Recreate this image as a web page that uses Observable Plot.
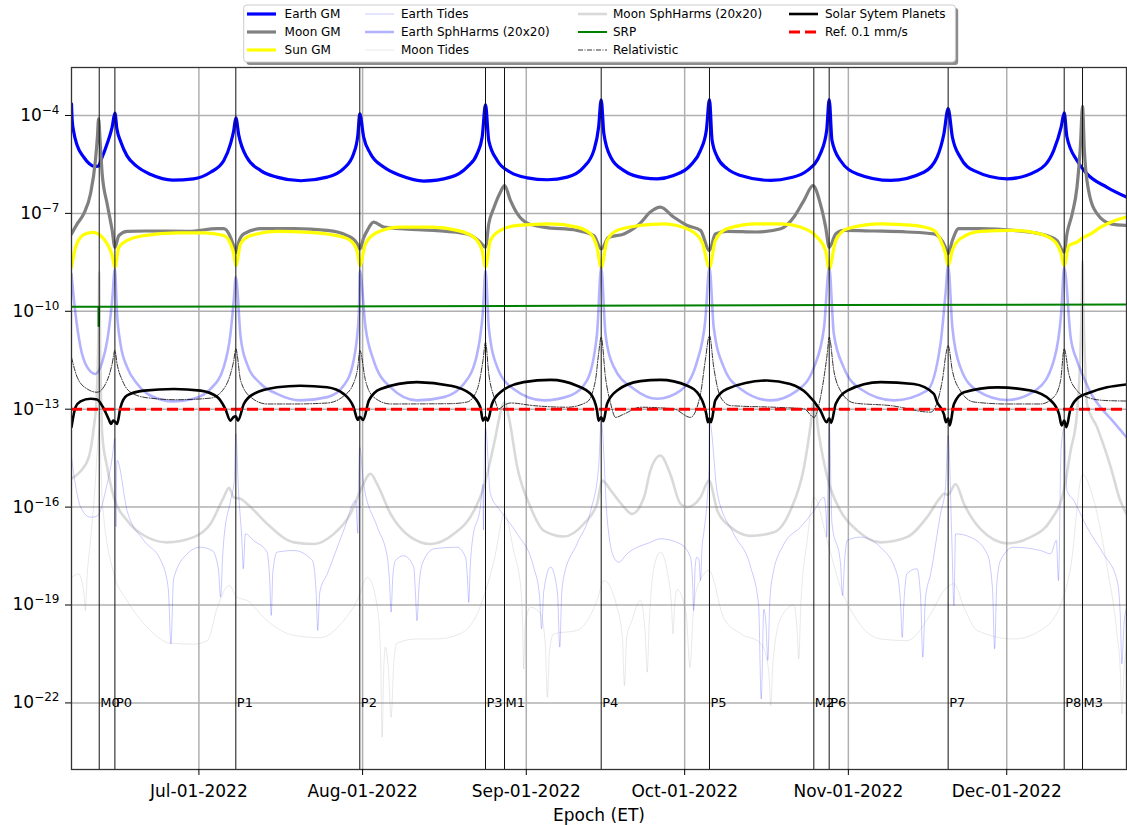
<!DOCTYPE html>
<html><head><meta charset="utf-8">
<script src="https://cdn.jsdelivr.net/npm/d3@7"></script>
<script src="https://cdn.jsdelivr.net/npm/@observablehq/plot@0.6"></script>
<style>
body{margin:0;background:#fff;font-family:"DejaVu Sans",sans-serif;}
#wrap{position:relative;width:1127px;height:825px;}
</style></head><body><div id="wrap"></div>
<script>
// ---------- DATA (x: days since 2022-06-01 UTC, value: log10 of acceleration) ----------
const yTicks = [1e-4, 1e-7, 1e-10, 1e-13, 1e-16, 1e-19, 1e-22];
const monthTicks = ["2022-07-01","2022-08-01","2022-09-01","2022-10-01","2022-11-01","2022-12-01"];
const xDomainDays = [5.87, 205.68];
const yDomainExp = [-24.04, -2.53];
const eventLabels = ["M0","P0","P1","P2","P3","M1","P4","P5","M2","P6","P7","P8","M3"];
const eventDays = [11.12,14.09,36.99,60.47,84.28,87.88,106.19,126.7,146.46,149.37,171.9,193.88,197.35];
const refValue = [1e-13];

const earthGM = [[5.87,-3.64],[6.0,-4.15],[6.3,-4.51],[6.95,-4.92],[8.2,-5.28],[9.2,-5.47],[10.1,-5.56],[10.9,-5.55],[11.68,-5.28],[12.63,-4.86],[13.57,-4.36],[14.09,-3.93],
[14.47,-4.41],[15.23,-4.82],[16.36,-5.23],[18.26,-5.56],[20.9,-5.81],[25,-5.98],[28.97,-5.94],[32.2,-5.74],[34.72,-5.38],[35.98,-4.87],[36.6,-4.46],[36.99,-4.07],
[37.56,-4.61],[39.07,-5.28],[41.72,-5.69],[44.75,-5.89],[49.3,-6.0],[54.3,-5.89],[57.4,-5.63],[59.3,-5.17],[60.1,-4.6],[60.47,-3.95],
[61.2,-4.66],[62.5,-5.17],[65.0,-5.58],[68.2,-5.84],[72.6,-6.01],[77.65,-5.89],[80.8,-5.58],[82.7,-5.17],[83.65,-4.66],[84.28,-3.67],
[84.9,-4.77],[86.5,-5.38],[89.0,-5.74],[92.2,-5.91],[96,-5.97],[99.75,-5.89],[102.9,-5.58],[104.8,-5.07],[105.7,-4.36],[106.19,-3.52],
[106.7,-4.56],[108,-5.28],[110.5,-5.69],[114.3,-5.91],[116.8,-5.94],[119.9,-5.84],[123.1,-5.53],[125,-5.07],[126.1,-4.46],[126.7,-3.51],
[127.2,-4.77],[128.2,-5.28],[130.05,-5.63],[132.6,-5.84],[138.3,-5.99],[142,-5.91],[145.2,-5.69],[147.7,-5.17],[148.9,-4.46],[149.37,-3.51],
[149.9,-4.77],[151.5,-5.38],[154.7,-5.79],[161,-5.99],[167.3,-5.74],[169.8,-5.28],[171.1,-4.56],[171.9,-3.79],
[172.7,-4.66],[174.2,-5.28],[176.8,-5.69],[183.1,-5.94],[188.8,-5.69],[191.9,-5.07],[193.3,-4.36],[193.88,-3.92],
[194.4,-4.66],[196.3,-5.38],[198.2,-5.79],[202,-6.20],[205.68,-6.50]];

const moonGM = [[5.87,-7.63],[6.95,-7.32],[8.2,-7.01],[9.47,-6.40],[10.4,-5.38],[10.8,-4.6],[11.0,-4.10],[11.3,-4.8],[11.68,-5.79],[12.63,-6.71],[13.57,-7.52],[14.09,-8.04],
[14.83,-7.68],[16.4,-7.55],[20,-7.54],[28,-7.55],[33.5,-7.47],[34.72,-7.47],[35.7,-7.63],[36.6,-8.0],[36.99,-8.2],
[37.6,-7.85],[38.5,-7.63],[41.7,-7.47],[48,-7.47],[54.3,-7.52],[58.1,-7.68],[60,-7.93],[60.47,-8.09],
[61.2,-7.75],[61.9,-7.52],[63.1,-7.27],[65,-7.42],[68.2,-7.47],[74.5,-7.52],[80.8,-7.63],[83.3,-7.88],[84.28,-8.04],
[84.9,-7.32],[85.9,-6.81],[87.1,-6.35],[87.88,-6.15],[89.0,-6.6],[90.3,-7.01],[92.2,-7.30],[95.3,-7.42],[101.6,-7.52],[104.8,-7.68],[106.19,-8.09],
[107.6,-7.73],[110.5,-7.63],[113.6,-7.30],[115.5,-6.96],[117.4,-6.81],[119.9,-7.11],[122.5,-7.37],[125,-7.52],[126.7,-8.14],
[127.8,-7.63],[130,-7.55],[135.7,-7.57],[140.2,-7.47],[142.7,-7.11],[144.6,-6.60],[146.3,-6.15],[147.7,-6.71],[148.7,-7.42],[149.37,-8.04],
[150.6,-7.63],[152.1,-7.52],[157.8,-7.54],[164.1,-7.57],[169.2,-7.63],[171.4,-8.04],[171.9,-8.24],
[172.7,-7.83],[173.9,-7.47],[178,-7.47],[184.3,-7.52],[189.4,-7.63],[192.5,-7.83],[193.88,-8.19],
[194.4,-7.63],[195.4,-7.01],[196.3,-6.20],[196.97,-4.87],[197.35,-3.72],[197.7,-5.07],[198.5,-6.30],[200.1,-7.01],[202.7,-7.32],[205.68,-7.37]];

const sunGM = [[5.87,-8.65],[6.63,-8.04],[7.58,-7.73],[8.84,-7.61],[10.1,-7.58],[11.36,-7.68],[12.63,-7.93],[13.57,-8.29],[14.09,-8.65],
[14.83,-8.04],[16.4,-7.83],[19.6,-7.68],[25.9,-7.60],[31,-7.60],[34.7,-7.68],[35.98,-7.93],[36.6,-8.24],[36.99,-8.60],
[37.9,-7.93],[39.8,-7.68],[44.8,-7.55],[51,-7.58],[57.4,-7.73],[59.3,-7.93],[60.1,-8.24],[60.47,-8.60],
[61.55,-7.93],[63.8,-7.58],[68.2,-7.42],[74,-7.42],[78.9,-7.52],[82.07,-7.73],[83.65,-8.14],[84.28,-8.65],
[85.2,-7.83],[87.1,-7.52],[90.3,-7.37],[96.6,-7.32],[101.6,-7.42],[104.2,-7.63],[105.4,-8.04],[106.19,-8.65],
[107.3,-7.83],[109.2,-7.52],[113.6,-7.37],[118,-7.32],[123.1,-7.52],[125.3,-7.88],[126.7,-8.65],
[127.8,-7.83],[130,-7.47],[135.7,-7.32],[140.2,-7.32],[143.9,-7.42],[147.1,-7.73],[148.7,-8.14],[149.37,-8.70],
[150.6,-7.83],[152.8,-7.47],[159.1,-7.32],[165.4,-7.37],[169.2,-7.52],[170.5,-7.83],[171.4,-8.24],[171.9,-8.60],
[172.7,-8.14],[174.2,-7.78],[178,-7.55],[184.3,-7.52],[189.4,-7.63],[192.2,-7.88],[193.3,-8.24],[193.88,-8.60],
[194.75,-7.99],[196.3,-7.88],[197.6,-7.73],[198.9,-7.63],[200.8,-7.42],[202.7,-7.27],[205.68,-7.11]];

const earthTides = [[5.87,-14.47],[6.5,-15.2],[7.6,-16.0],[9.47,-16.31],[10.7,-16.28],[12.6,-15.3],[13.57,-14.5],[14.09,-13.9],[14.2,-15.5],[14.3,-16.6],[14.4,-15.0],[14.5,-14.57],[16.4,-16.11],[19.6,-17.03],[22.8,-17.64],[24.2,-18.5],[24.7,-20.19],[25.2,-18.2],[27.8,-17.43],[30.3,-17.23],[32.5,-17.33],[33.7,-17.9],[34.1,-18.76],[34.5,-17.5],[34.7,-17.03],[36.0,-15.80],[36.7,-15.19],[36.99,-13.75],[37.5,-15.5],[38.2,-17.2],[38.4,-17.89],[38.8,-16.82],[40.4,-17.03],[42.9,-17.38],[43.4,-18.2],[43.7,-19.32],[44.0,-18.0],[44.8,-17.38],[48,-17.33],[51.5,-17.64],[52.2,-18.6],[52.5,-19.78],[52.9,-18.6],[54.3,-18.05],[57.4,-16.72],[59.7,-15.80],[60.1,-16.8],[60.2,-15.5],[60.47,-14.17],[61.2,-15.29],[63.8,-16.62],[65.7,-17.54],[66.1,-18.3],[66.4,-19.22],[66.7,-18.2],[67.2,-17.64],[68.8,-17.49],[70.7,-17.84],[71.0,-18.6],[71.3,-19.48],[71.7,-18.4],[72.3,-17.74],[74.5,-17.28],[78.9,-17.23],[80.5,-17.54],[80.9,-18.3],[81.1,-18.92],[81.4,-17.8],[81.8,-17.02],[83.3,-16.0],[83.8,-15.3],[83.9,-16.7],[84.0,-15.08],[84.28,-13.55],[85.2,-15.59],[87.1,-16.11],[90.3,-16.82],[93.4,-17.84],[94.5,-18.7],[94.9,-19.73],[95.3,-18.6],[96.6,-17.84],[97.9,-18.6],[98.35,-20.29],[98.7,-18.7],[99.1,-18.14],[101.6,-17.13],[104.2,-16.11],[105.7,-14.78],[106.19,-13.35],[107.3,-16.31],[108.6,-17.54],[109.5,-17.69],[111.1,-17.43],[115.5,-17.08],[117.4,-16.97],[121.2,-17.13],[123.1,-17.54],[123.5,-18.3],[123.7,-19.17],[124.0,-17.8],[124.3,-17.54],[124.7,-17.6],[125.0,-18.25],[125.3,-17.2],[125.6,-16.82],[126.6,-14.78],[126.7,-13.35],[128.2,-15.59],[131.3,-16.82],[134.5,-17.84],[136.0,-19.0],[136.5,-21.88],[137.0,-19.13],[137.4,-19.6],[137.75,-20.70],[138.1,-19.0],[138.6,-18.15],[140.8,-17.13],[143.9,-16.62],[146.5,-16.11],[148.4,-15.70],[148.8,-16.3],[148.9,-16.92],[149.1,-15.5],[149.37,-13.4],[149.9,-16.5],[151.5,-17.7],[151.9,-18.71],[152.3,-17.6],[152.8,-17.02],[155.3,-16.92],[159.1,-17.23],[162.2,-18.04],[162.9,-19.0],[163.2,-19.99],[163.5,-19.0],[164.1,-18.04],[166,-17.89],[166.7,-18.8],[167.1,-20.60],[167.6,-18.8],[168.6,-18.04],[170.45,-16.21],[171.4,-15.39],[171.9,-13.8],[172.6,-17.0],[173.0,-19.02],[173.3,-16.82],[176.1,-16.92],[179.3,-17.43],[180.3,-18.5],[180.7,-20.34],[181.1,-18.4],[181.8,-17.64],[184.3,-17.23],[189.4,-17.33],[191.3,-17.43],[192.4,-17.02],[192.8,-18.25],[193.3,-14.17],[193.88,-13.6],[194.4,-15.49],[195.7,-15.80],[198.2,-16.62],[201.3,-17.43],[203.9,-18.25],[204.5,-19.3],[204.8,-20.80],[205.2,-19.6],[205.68,-19.1]];

const earthSphHarms = [[5.87,-8.85],[6.3,-9.6],[6.63,-10.08],[7.58,-11.10],[8.84,-11.71],[10.4,-11.92],[11.68,-11.56],[12.63,-10.9],[13.57,-9.67],[14.09,-8.70],
[14.5,-10.08],[15.15,-11.0],[16.4,-11.71],[18.3,-12.22],[20.8,-12.58],[25.25,-12.76],[29,-12.68],[32.2,-12.38],[34.7,-11.71],[35.98,-10.69],[36.6,-9.67],[36.99,-8.95],
[37.9,-10.79],[39.1,-11.61],[41.7,-12.22],[44.8,-12.53],[49.2,-12.73],[54.3,-12.63],[57.4,-12.28],[59.3,-11.51],[60.3,-10.08],[60.47,-8.75],
[61.55,-10.49],[63.1,-11.51],[66.3,-12.33],[71.3,-12.73],[76.4,-12.63],[80.2,-12.22],[82.7,-11.3],[83.8,-9.98],[84.28,-8.75],
[84.9,-10.49],[86.5,-11.71],[89.6,-12.38],[95.3,-12.73],[100.4,-12.58],[103.5,-12.12],[105.4,-10.69],[106.19,-8.65],
[107,-10.69],[108.6,-11.71],[112.4,-12.38],[116.8,-12.68],[121.2,-12.43],[124.4,-11.51],[125.9,-10.28],[126.7,-8.65],
[127.5,-10.49],[129.4,-11.71],[132.6,-12.38],[138.3,-12.73],[143.3,-12.43],[146.5,-11.71],[148.4,-10.49],[149.37,-8.65],
[150.25,-10.69],[152.1,-11.71],[155.3,-12.38],[161.6,-12.73],[167.9,-12.43],[170.45,-11.0],[171.4,-9.47],[171.9,-8.60],
[172.7,-10.49],[174.2,-11.71],[177.4,-12.43],[183.1,-12.72],[188.8,-12.38],[191.9,-11.51],[193.3,-10.08],[193.88,-8.65],
[195.1,-10.79],[196.3,-11.51],[197.5,-12.0],[198.9,-12.5],[200.8,-12.95],[203,-13.35],[205.68,-13.86]];

const moonTides = [[5.87,-18.15],[7.2,-18.05],[8.2,-18.6],[8.5,-19.17],[8.8,-18.2],[9.47,-17.03],[10.4,-15.2],[10.7,-14.37],[11.12,-13.6],[11.4,-14.5],[11.7,-15.80],[13.9,-18.05],[16.4,-18.86],[20.2,-19.68],[24.6,-20.17],[29,-20.2],[31.6,-20.09],[33.5,-19.07],[35.7,-18.40],[37.2,-18.76],[39.1,-18.86],[42.9,-19.48],[48,-19.93],[53,-20.0],[57.4,-19.48],[60,-18.86],[61.9,-18.15],[63.8,-19.07],[64.4,-20.5],[64.7,-23.05],[65.0,-21.0],[65.3,-20.29],[65.9,-21.0],[66.4,-22.44],[66.9,-20.8],[67.5,-20.17],[71.3,-20.04],[75,-20.04],[79.5,-19.88],[82.7,-19.27],[85.9,-17.64],[87.88,-16.21],[89.6,-17.33],[91.0,-18.53],[91.3,-19.5],[91.5,-20.96],[91.8,-19.6],[92.8,-19.07],[94.7,-19.27],[95.6,-20.2],[96.0,-21.83],[96.4,-20.4],[97.2,-19.88],[101.6,-19.78],[105.4,-18.86],[106.7,-18.25],[109.2,-19.07],[110.2,-20.0],[110.6,-21.47],[111.0,-20.0],[112,-19.48],[113.6,-18.86],[114.5,-19.8],[114.9,-21.06],[115.3,-19.5],[116.2,-17.84],[117.4,-17.38],[119,-18.25],[119.5,-19.0],[119.8,-19.88],[120.1,-19.0],[120.6,-18.53],[122.3,-19.3],[123,-20.91],[123.6,-19.3],[124.4,-18.45],[126.6,-17.94],[129.4,-19.4],[132.6,-19.88],[136.4,-20.17],[137.9,-21.0],[138.3,-22.08],[138.7,-20.8],[140.2,-19.4],[142.7,-19.0],[143.3,-19.8],[143.6,-20.65],[144.0,-19.0],[145.2,-17.03],[146.5,-15.70],[149,-17.03],[151.5,-18.45],[154.7,-19.48],[159.1,-20.04],[164.1,-20.09],[168.6,-19.27],[171.1,-18.56],[173,-18.35],[174.9,-19.07],[177.4,-19.78],[184.3,-20.04],[189.4,-19.78],[193.2,-19.0],[195.1,-17.84],[197.35,-15.0],[199.5,-15.80],[202,-17.84],[203.9,-19.9],[204.5,-21.0],[204.8,-22.34],[205.2,-21.0],[205.68,-20.3]];

const moonSphHarms = [[5.87,-15.13],[7.58,-14.90],[9.15,-14.47],[10.1,-13.55],[10.6,-12.73],[10.9,-11.3],[11.05,-9.8],[11.12,-8.8],[11.2,-9.9],[11.35,-11.6],[11.68,-13.76],[12.63,-14.78],[13.9,-15.70],[16.4,-16.41],[19.6,-16.87],[24,-17.08],[29,-16.92],[32.2,-16.51],[34.7,-15.70],[35.7,-15.41],[36.6,-15.70],[37.9,-15.75],[39.8,-16.0],[42.9,-16.51],[48,-17.08],[51.8,-17.13],[55.55,-16.82],[58.7,-16.21],[60.6,-15.49],[62.5,-14.98],[63.8,-15.31],[66.3,-16.21],[70.1,-16.92],[73.9,-17.13],[78.3,-16.82],[82.1,-16.11],[83.96,-15.39],[85.9,-14.06],[87.4,-12.94],[87.88,-12.78],[88.7,-13.25],[90.3,-14.78],[92.8,-16.0],[95.3,-16.72],[99.1,-16.90],[102.9,-16.51],[105.4,-15.90],[106.4,-15.19],[108,-15.49],[110.5,-16.0],[112,-16.21],[114.3,-15.70],[115.5,-14.88],[117.4,-14.42],[119.3,-15.0],[121.2,-15.90],[122.5,-16.0],[125,-15.70],[126.6,-15.19],[128.2,-16.11],[130.7,-16.61],[134.5,-16.88],[138.9,-16.77],[142,-16.11],[144.6,-14.78],[145.8,-13.55],[146.46,-12.73],[147.4,-13.76],[149,-15.08],[151.5,-16.11],[154.7,-16.72],[159.1,-17.08],[164.1,-16.92],[167.9,-16.31],[170.45,-15.70],[171.1,-15.59],[171.9,-15.62],[173.3,-15.29],[174.9,-15.90],[178,-16.67],[183.1,-17.11],[187.5,-16.92],[191.3,-16.41],[193.8,-15.49],[195.1,-14.27],[196.3,-13.14],[196.9,-11.5],[197.2,-9.8],[197.35,-8.45],[197.5,-9.8],[197.8,-11.5],[198.2,-12.83],[200.1,-13.55],[202.7,-14.78],[204.5,-15.80],[205.68,-16.21]];

const srp = [[5.87,-9.86],[10.98,-9.86],[11.0,-10.45],[11.08,-10.45],[11.1,-9.86],[50,-9.85],[100,-9.83],[150,-9.81],[205.68,-9.79]];

const relativistic = [[5.87,-11.41],[6.95,-12.02],[8.84,-12.38],[10.7,-12.48],[12.63,-12.12],[13.57,-11.61],[14.09,-11.20],
[14.5,-11.61],[15.5,-12.12],[17.05,-12.48],[20.2,-12.65],[25.9,-12.71],[32.2,-12.66],[34.7,-12.38],[35.98,-11.92],[36.6,-11.51],[36.99,-11.15],
[37.9,-12.12],[39.8,-12.63],[42.9,-12.84],[48,-12.84],[54.3,-12.81],[57.4,-12.6],[59.3,-12.2],[60.1,-11.7],[60.47,-11.20],
[61.55,-12.12],[63.1,-12.63],[66.3,-12.84],[77.65,-12.83],[80.8,-12.78],[82.7,-12.40],[83.8,-11.51],[84.28,-10.95],
[84.9,-11.92],[85.9,-12.63],[86.8,-12.99],[87.7,-12.89],[89,-12.81],[93.4,-12.89],[99.75,-12.94],[103.5,-12.78],[105.1,-12.12],[105.7,-11.30],[106.19,-10.79],
[107,-12.02],[108,-12.84],[108.9,-13.25],[110.5,-13.15],[113.6,-12.94],[119.9,-12.99],[123.1,-13.25],[125,-12.53],[125.9,-11.51],[126.7,-10.74],
[127.5,-11.71],[128.8,-12.63],[130.7,-12.89],[138.9,-12.94],[144.6,-12.99],[146.5,-13.25],[148,-12.4],[149,-11.30],[149.37,-10.79],
[150.25,-11.82],[151.5,-12.43],[154.1,-12.81],[161,-12.89],[168.6,-13.09],[170.8,-12.12],[171.5,-11.3],[171.9,-11.05],
[172.7,-11.82],[174.2,-12.43],[176.8,-12.78],[183.1,-12.84],[189.4,-12.84],[191.9,-12.63],[193.2,-12.12],[193.88,-11.15],
[194.75,-11.92],[196.3,-12.43],[198.2,-12.63],[201.3,-12.73],[205.68,-12.75]];

const solarPlanets = [[5.87,-13.55],[6.63,-12.94],[7.58,-12.76],[9.47,-12.68],[10.7,-12.70],[12.0,-12.99],[12.9,-13.30],[13.38,-13.45],[13.76,-13.35],[14.09,-13.38],[14.5,-13.45],[15.15,-12.94],[16.4,-12.58],[19.6,-12.43],[25.25,-12.38],[30.3,-12.43],[33.5,-12.63],[35.0,-12.99],[35.98,-13.35],[36.5,-13.25],[36.99,-13.22],[37.4,-13.35],[38.5,-12.84],[40.4,-12.53],[44.8,-12.33],[49.2,-12.28],[54.3,-12.33],[57.4,-12.53],[59.3,-12.94],[60.1,-13.33],[60.47,-13.23],[61.1,-13.33],[62.2,-12.73],[64.4,-12.38],[71.3,-12.17],[77.65,-12.28],[81.4,-12.53],[83.3,-12.94],[83.8,-13.35],[84.28,-13.25],[84.7,-13.35],[85.5,-12.84],[87.1,-12.48],[91.5,-12.17],[96.6,-12.10],[101.6,-12.28],[104.2,-12.53],[105.4,-13.04],[105.7,-13.35],[106.19,-13.25],[106.6,-13.37],[107.3,-12.84],[109.2,-12.43],[113.6,-12.14],[117.4,-12.10],[122.5,-12.28],[125,-12.63],[126.1,-13.15],[126.4,-13.40],[126.7,-13.28],[127.0,-13.40],[127.8,-12.73],[130,-12.38],[137.6,-12.12],[142,-12.23],[145.2,-12.53],[147.7,-13.04],[148.9,-13.40],[149.37,-13.28],[149.75,-13.42],[150.6,-12.84],[152.8,-12.43],[159.1,-12.17],[165.4,-12.23],[169.2,-12.53],[169.8,-12.78],[171.1,-13.15],[171.5,-13.40],[171.9,-13.28],[172.2,-13.50],[173,-12.84],[174.9,-12.48],[181.2,-12.33],[187.5,-12.43],[191.3,-12.73],[192.9,-13.15],[193.4,-13.50],[193.88,-13.35],[194.3,-13.55],[195,-13.04],[196.3,-12.68],[198.9,-12.48],[202,-12.33],[205.68,-12.24]];

// ---------- helpers ----------
const T0 = Date.UTC(2022, 5, 1);
const toDate = d => new Date(T0 + d * 864e5);
const rows = arr => arr.map(([d, e]) => ({date: toDate(d), value: Math.pow(10, e)}));
const monthDates = monthTicks.map(s => new Date(s + "T00:00:00Z"));
const events = eventLabels.map((l, i) => ({label: l, date: toDate(eventDays[i])}));

const series = [
  {name: "Earth GM", data: earthGM, stroke: "#0000ff", width: 3.2},
  {name: "Moon GM", data: moonGM, stroke: "#808080", width: 3.2},
  {name: "Sun GM", data: sunGM, stroke: "#ffff00", width: 3.2},
  {name: "Earth Tides", data: earthTides, stroke: "#0000ff", width: 0.7, opacity: 0.3},
  {name: "Earth SphHarms (20x20)", data: earthSphHarms, stroke: "#0000ff", width: 2.6, opacity: 0.3},
  {name: "Moon Tides", data: moonTides, stroke: "#808080", width: 0.7, opacity: 0.25},
  {name: "Moon SphHarms (20x20)", data: moonSphHarms, stroke: "#808080", width: 2.6, opacity: 0.3},
  {name: "SRP", data: srp, stroke: "#008000", width: 2, curve: "linear"},
  {name: "Relativistic", data: relativistic, stroke: "#000000", width: 0.8, dash: "5,1.5,1,1.5"},
  {name: "Solar Sytem Planets", data: solarPlanets, stroke: "#000000", width: 2.6}
];
const refStyle = {name: "Ref. 0.1 mm/s", stroke: "#ff0000", width: 3, dash: "11,5"};

const chart = Plot.plot({
  width: 1127, height: 825,
  marginLeft: 71, marginRight: 1, marginTop: 67, marginBottom: 56,
  style: {fontFamily: "DejaVu Sans", fontSize: "17px", background: "white", color: "black"},
  x: {type: "utc", domain: xDomainDays.map(toDate), label: null},
  y: {type: "log", domain: yDomainExp.map(e => Math.pow(10, e)), label: null},
  marks: [
    Plot.ruleY(yTicks, {stroke: "#b0b0b0", strokeWidth: 1.5}),
    Plot.ruleX(monthDates, {stroke: "#b0b0b0", strokeWidth: 1.5}),
    ...series.map(s => Plot.line(rows(s.data), {
      x: "date", y: "value", stroke: s.stroke, strokeWidth: s.width,
      strokeOpacity: s.opacity ?? 1, strokeDasharray: s.dash, curve: s.curve ?? "monotone-x", clip: true
    })),
    Plot.ruleY(refValue, {stroke: refStyle.stroke, strokeWidth: refStyle.width, strokeDasharray: refStyle.dash}),
    Plot.ruleX(events, {x: "date", stroke: "#111", strokeWidth: 1}),
    Plot.text(events, {x: "date", y: () => 1e-22, text: "label", textAnchor: "start", dx: 1, fontSize: 13, fill: "black"}),
    Plot.frame({stroke: "#333", strokeWidth: 1.3}),
    Plot.axisY({ticks: yTicks, tickSize: 6, tickPadding: 6, fontSize: 17, label: null,
      tickFormat: d => "10^" + Math.round(Math.log10(d))}),
    Plot.axisX({ticks: monthDates, tickSize: 6, tickPadding: 9, fontSize: 17, label: null,
      tickFormat: d3.utcFormat("%b-%d-%Y")}),
    Plot.text(["Epoch (ET)"], {frameAnchor: "bottom", dy: 51, fontSize: 17, fill: "black"})
  ]
});

// superscript exponents on y tick labels
chart.querySelectorAll('g[aria-label="y-axis tick label"] text').forEach(t => {
  const s = t.textContent;
  if (!s.includes("^")) return;
  const e = +s.split("^")[1];
  t.textContent = "";
  const ns = "http://www.w3.org/2000/svg";
  const a = document.createElementNS(ns, "tspan"); a.textContent = "10"; t.appendChild(a);
  const b = document.createElementNS(ns, "tspan");
  b.setAttribute("dy", "-7"); b.setAttribute("font-size", "12");
  b.textContent = (e < 0 ? "\u2212" : "") + Math.abs(e); t.appendChild(b);
});

const wrap = document.getElementById("wrap");
wrap.appendChild(chart);

// ---------- legend (overlay above the plot area) ----------
const legendEntries = [...series, refStyle];
const colLineX = [247, 365, 578, 789];
const colTextX = [284.6, 401, 613, 825];
const rowY = [14, 32, 50];
const lg = d3.create("svg").attr("width", 1127).attr("height", 70)
  .style("position", "absolute").style("left", "0px").style("top", "0px")
  .style("font-family", "DejaVu Sans");
lg.append("rect").attr("x", 246.5).attr("y", 8).attr("width", 711.7).attr("height", 57).attr("rx", 3)
  .attr("fill", "rgba(0,0,0,0.45)");
lg.append("rect").attr("x", 243.7).attr("y", 5).attr("width", 711.7).attr("height", 57).attr("rx", 3)
  .attr("fill", "white").attr("stroke", "#cccccc");
legendEntries.forEach((s, i) => {
  const c = Math.floor(i / 3), r = i % 3;
  lg.append("line").attr("x1", colLineX[c]).attr("x2", colLineX[c] + 29)
    .attr("y1", rowY[r]).attr("y2", rowY[r])
    .attr("stroke", s.stroke).attr("stroke-width", s.width)
    .attr("stroke-opacity", s.opacity ?? 1).attr("stroke-dasharray", s.dash || null);
  lg.append("text").attr("x", colTextX[c]).attr("y", rowY[r]).attr("dy", "0.35em")
    .attr("font-size", 12).attr("fill", "black").text(s.name);
});
wrap.appendChild(lg.node());
</script>
</body></html>
